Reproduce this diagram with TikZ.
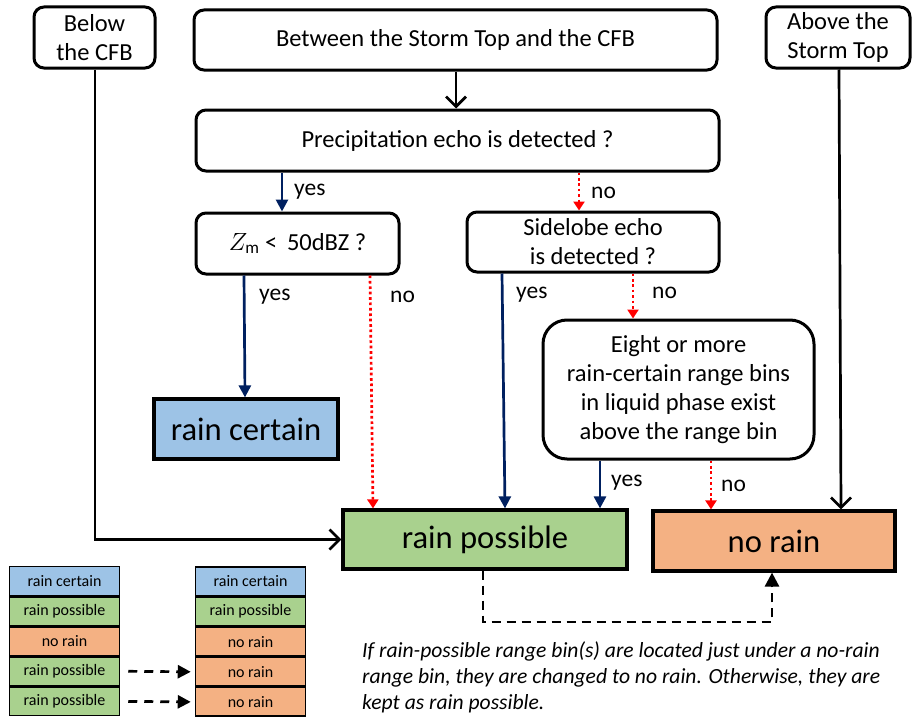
\documentclass[tikz,border=0pt]{standalone}
\usepackage{fontspec}
\setmainfont{Carlito}
\usetikzlibrary{arrows.meta}
\definecolor{cblue}{HTML}{9DC3E6}
\definecolor{cgreen}{HTML}{A9D18E}
\definecolor{corange}{HTML}{F4B183}
\definecolor{cnavy}{HTML}{002060}
\tikzset{
  rbox/.style={draw, line width=3pt, rounded corners=10pt, align=center, inner sep=0pt, font=\fontsize{24.5}{29}\selectfont},
  resbox/.style={draw, line width=3.2pt, inner sep=0pt, font=\fontsize{32.6}{36}\selectfont},
  legbox/.style={draw, line width=1.5pt, inner sep=0pt, minimum width=110pt, minimum height=28.6pt, font=\fontsize{16}{18}\selectfont},
  yesarr/.style={draw=cnavy, line width=2.7pt, -{Triangle[length=12pt,width=12pt]}},
  noarr/.style={draw=red, line width=2.7pt, dash pattern=on 2.7pt off 2.7pt, -{Triangle[length=9pt,width=11pt]}},
  blkarr/.style={draw, line width=2.7pt, -{Straight Barb[length=10pt,width=20pt,line width=2.7pt]}},
  lbl/.style={font=\fontsize{23.5}{26}\selectfont, anchor=west, inner sep=0pt},
}
\begin{document}
\begin{tikzpicture}[x=1pt,y=-1pt]
\useasboundingbox (0,0) rectangle (912,717);
% top boxes
\node[rbox, minimum width=121pt, minimum height=61pt] (below) at (94.5,37.5) {Below\\the CFB};
\node[rbox, minimum width=523pt, minimum height=60pt] (between) at (455.5,40) {Between the Storm Top and the CFB};
\node[rbox, minimum width=144pt, minimum height=61pt] (above) at (838,37.5) {Above the\\Storm Top};
\node[rbox, minimum width=523pt, minimum height=61pt] (precip) at (457.5,140.5) {Precipitation echo is detected ?};
\node[rbox, minimum width=203pt, minimum height=61pt] (zm) at (297.5,243.5) {$Z_{\mathrm{m}}$ <\, 50dBZ ?};
\node[rbox, minimum width=252pt, minimum height=60pt] (side) at (593,242) {Sidelobe echo\\is detected ?};
\node[rbox, rounded corners=24pt, minimum width=271pt, minimum height=139pt] (eight) at (678.5,389.5) {Eight or more\\rain-certain range bins\\in liquid phase exist\\above the range bin};
% results
\node[resbox, fill=cblue, minimum width=184pt, minimum height=60pt] (certain) at (246,429) {rain certain};
\node[resbox, fill=cgreen, minimum width=284pt, minimum height=59pt] (possible) at (485,539.5) {rain possible};
\node[resbox, fill=corange, minimum width=242pt, minimum height=60pt] (norain) at (774,541) {no rain};
% arrows
\draw[blkarr] (between.south -| 456,0) -- (precip.north -| 456,0);
\draw[yesarr] (precip.south -| 282,0) -- (zm.north -| 282,0);
\node[lbl] (l1) at (294,192) {yes};
\draw[noarr] (precip.south -| 579,0) -- (side.north -| 579,0);
\node[lbl] (l2) at (591,193) {no};
\draw[yesarr] (zm.south -| 244,0) -- (certain.north -| 245,0);
\node[lbl] (l3) at (259,297) {yes};
\draw[noarr] (zm.south -| 370,0) -- (possible.north -| 373,0);
\node[lbl] (l4) at (390,297) {no};
\draw[yesarr] (side.south -| 502,0) -- (possible.north -| 505,0);
\node[lbl] (l5) at (516,295) {yes};
\draw[noarr] (side.south -| 633,0) -- (eight.north -| 633,0);
\node[lbl] (l6) at (652,293) {no};
\draw[yesarr] (eight.south -| 600,0) -- (possible.north -| 600,0);
\node[lbl] (l7) at (611,483) {yes};
\draw[noarr] (eight.south -| 711,0) -- (norain.north -| 711,0);
\node[lbl] (l8) at (721,486) {no};
\draw[blkarr] (above.south -| 839,0) -- (norain.north -| 841,0);
\draw[blkarr] (below.south -| 95,0) |- (possible.west);
\draw[line width=2.7pt, dash pattern=on 9pt off 6pt, -{Triangle[length=14pt,width=14pt]}] (possible.south -| 483,0) -- (483,622) -- (772,622) -- (norain.south -| 772,0);
% note
\node[align=left, anchor=north west, inner sep=0pt, font=\itshape\fontsize{21.6}{26}\selectfont] (note) at (362,642) {If rain-possible range bin(s) are located just under a no-rain\\range bin, they are changed to no rain. Otherwise, they are\\kept as rain possible.};
% legend
\node[legbox, fill=cblue] (a1) at (64.5,581) {rain certain};
\node[legbox, fill=cgreen, anchor=north] (a2) at (a1.south) {rain possible};
\node[legbox, fill=corange, anchor=north] (a3) at (a2.south) {no rain};
\node[legbox, fill=cgreen, anchor=north] (a4) at (a3.south) {rain possible};
\node[legbox, fill=cgreen, anchor=north] (a5) at (a4.south) {rain possible};
\node[legbox, fill=cblue] (b1) at (250.5,581.5) {rain certain};
\node[legbox, fill=cgreen, anchor=north] (b2) at (b1.south) {rain possible};
\node[legbox, fill=corange, anchor=north] (b3) at (b2.south) {no rain};
\node[legbox, fill=corange, anchor=north] (b4) at (b3.south) {no rain};
\node[legbox, fill=corange, anchor=north] (b5) at (b4.south) {no rain};
\draw[line width=2.7pt, dash pattern=on 9pt off 7pt, -{Triangle[length=13pt,width=13pt]}] ([xshift=8pt]a4.east) -- ([xshift=-4pt]b4.west);
\draw[line width=2.7pt, dash pattern=on 9pt off 7pt, -{Triangle[length=13pt,width=13pt]}] ([xshift=8pt]a5.east) -- ([xshift=-4pt]b5.west);
\end{tikzpicture}
\end{document}
